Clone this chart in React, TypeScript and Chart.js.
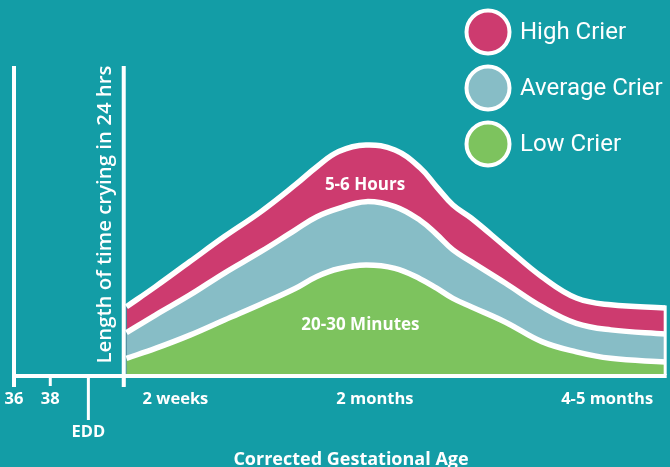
import React, { useEffect, useRef } from "react";
import { Chart, registerables } from "chart.js";

Chart.register(...registerables);

// Position along the (non-uniform) corrected-age axis, arbitrary units
const xPositions = [6.2, 7.8, 9.7, 11.6, 13.6, 15.5, 16.7, 17.9, 19.4, 21.0, 22.4, 23.3, 24.2, 25.2, 27.1, 29.1, 31.0, 32.9, 35.9];
// Relative length of crying (top of each band)
const highCrier = [22.1, 28.6, 36.7, 44.8, 52.8, 61.5, 67.4, 72.3, 74.4, 72.8, 67.0, 60.9, 55.0, 50.8, 41.5, 31.8, 24.9, 22.7, 21.7];
const averageCrier = [13.7, 19.4, 25.9, 33.0, 39.9, 46.9, 51.2, 53.9, 56.1, 54.5, 50.0, 45.5, 40.5, 36.7, 29.7, 22.1, 16.7, 14.6, 13.3];
const lowCrier = [5.4, 8.6, 12.9, 17.8, 22.9, 28.0, 31.9, 34.4, 35.6, 34.5, 31.1, 28.1, 24.8, 22.1, 17.1, 10.8, 7.5, 5.4, 4.2];

const seriesNames = ["High Crier", "Average Crier", "Low Crier"];
const seriesColors = ["#cd3b6f", "#87bdc6", "#7dc35e"];

const tickValues = [0, 2, 4.1, 8.9, 19.9, 32.7];
const tickLabels = ["36", "38", "EDD", "2 weeks", "2 months", "4-5 months"];
const tickMarkValues = [0, 2, 4.1, 6.05];
const axisBreak = 6.05;

const bandLabels = ["5-6 Hours", "20-30 Minutes"];
const bandLabelX = [19.35, 19.1];
const bandLabelY = [61.5, 16.2];

const xTitle = "Corrected Gestational Age";
const yTitle = "Length of time crying in 24 hrs";

const BG = "#139da6";

const overlayPlugin = {
  id: "overlay",
  afterDatasetsDraw(chart: any) {
    const { ctx, scales } = chart;
    const x = scales.x;
    const y = scales.y;
    const base = y.getPixelForValue(0);
    const top = chart.chartArea.top;
    ctx.save();
    ctx.strokeStyle = "#ffffff";
    ctx.lineCap = "butt";

    // right edge of the bands
    const lastX = x.getPixelForValue(xPositions[xPositions.length - 1]);
    ctx.lineWidth = 3;
    ctx.beginPath();
    ctx.moveTo(lastX, y.getPixelForValue(highCrier[highCrier.length - 1]) - 2.5);
    ctx.lineTo(lastX, base);
    ctx.stroke();

    // horizontal axis
    ctx.lineWidth = 4;
    ctx.beginPath();
    ctx.moveTo(x.getPixelForValue(0) - 2, base + 1);
    ctx.lineTo(lastX + 1.5, base + 1);
    ctx.stroke();

    // vertical axes
    ctx.beginPath();
    ctx.moveTo(x.getPixelForValue(0), top);
    ctx.lineTo(x.getPixelForValue(0), base + 12);
    ctx.moveTo(x.getPixelForValue(axisBreak), top);
    ctx.lineTo(x.getPixelForValue(axisBreak), base + 12);
    ctx.stroke();

    // tick marks
    ctx.lineWidth = 3;
    tickMarkValues.forEach((v) => {
      const px = x.getPixelForValue(v);
      const len = v === 4.1 ? 45 : 11;
      ctx.beginPath();
      ctx.moveTo(px, base);
      ctx.lineTo(px, base + len);
      ctx.stroke();
    });

    // tick labels
    ctx.fillStyle = "#ffffff";
    ctx.textAlign = "center";
    ctx.textBaseline = "alphabetic";
    ctx.font = 'bold 16.5px "Open Sans"';
    tickValues.forEach((v, i) => {
      const px = x.getPixelForValue(v);
      const py = tickLabels[i] === "EDD" ? base + 62 : base + 28.5;
      ctx.fillText(tickLabels[i], px, py);
    });

    // x title
    ctx.font = 'bold 18px "Open Sans"';
    ctx.fillText(xTitle, 351, 465);

    // y title
    ctx.save();
    ctx.translate(x.getPixelForValue(axisBreak) - 19, (top + base) / 2 - 6);
    ctx.rotate(-Math.PI / 2);
    ctx.textBaseline = "middle";
    ctx.font = '600 20.4px "Open Sans"';
    ctx.fillText(yTitle, 0, 0);
    ctx.restore();

    // band labels
    ctx.font = 'bold 17px "Open Sans"';
    ctx.textBaseline = "middle";
    bandLabels.forEach((t, i) => {
      ctx.fillText(t, x.getPixelForValue(bandLabelX[i]), y.getPixelForValue(bandLabelY[i]));
    });

    // legend
    ctx.textAlign = "left";
    ctx.font = '24px Roboto';
    seriesNames.forEach((name, i) => {
      const cy = 32 + i * 56;
      const cx = 488;
      ctx.beginPath();
      ctx.arc(cx, cy, 21.5, 0, Math.PI * 2);
      ctx.fillStyle = seriesColors[i];
      ctx.fill();
      ctx.lineWidth = 4;
      ctx.strokeStyle = "#ffffff";
      ctx.stroke();
      ctx.fillStyle = "#ffffff";
      ctx.fillText(name, 520, cy + 1);
    });
    ctx.restore();
  },
};

export default function App() {
  const canvasRef = useRef<HTMLCanvasElement | null>(null);

  useEffect(() => {
    if (!canvasRef.current) return;
    const series = [highCrier, averageCrier, lowCrier];
    const chart = new Chart(canvasRef.current, {
      type: "line",
      data: {
        datasets: series.map((vals, i) => ({
          label: seriesNames[i],
          data: vals.map((v, j) => ({ x: xPositions[j], y: v })),
          backgroundColor: seriesColors[i],
          borderColor: "#ffffff",
          borderWidth: 5.5,
          fill: "origin",
          pointRadius: 0,
          tension: 0.4,
          order: 3 - i,
          clip: 10,
        })),
      },
      options: {
        animation: false,
        responsive: true,
        maintainAspectRatio: false,
        layout: { padding: { left: 14, right: 3, top: 66, bottom: 92 } },
        scales: {
          x: { type: "linear", display: false, min: 0, max: 36 },
          y: { display: false, min: 0, max: 100 },
        },
        plugins: {
          legend: { display: false },
          tooltip: { enabled: false },
        },
      },
      plugins: [overlayPlugin],
    } as any);
    return () => chart.destroy();
  }, []);

  return (
    <div style={{ position: "fixed", left: 0, top: 0, width: 670, height: 467, background: BG }}>
      <canvas ref={canvasRef} />
    </div>
  );
}
